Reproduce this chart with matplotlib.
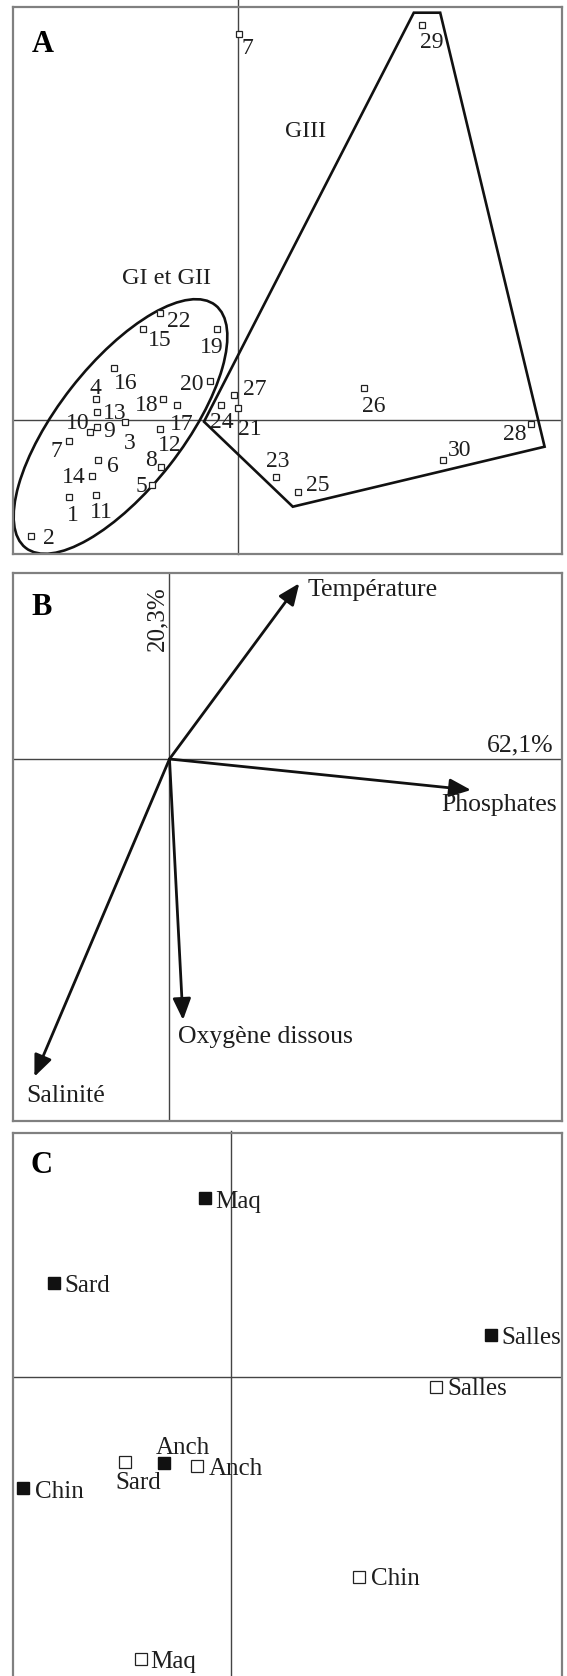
import matplotlib
matplotlib.use("Agg")
import matplotlib.pyplot as plt
from matplotlib.patches import Ellipse, Polygon

plt.rcParams['font.family'] = ['Liberation Serif', 'DejaVu Serif']

# ---------------- DATA ----------------
# Panel A: station scores (F1, F2)
station_labels = ['1', '2', '3', '4', '5', '6', '7', '8', '9', '10',
                  '11', '12', '13', '14', '15', '16', '17', '18', '19', '20',
                  '21', '22', '23', '24', '25', '26', '27', '28', '29', '30', '7']
station_x = [-1.69, -2.07, -1.12, -1.42, -0.86, -1.40, -1.69, -0.77, -1.41, -1.48,
             -1.42, -0.78, -1.41, -1.46, -0.95, -1.24, -0.61, -0.75, -0.21, -0.28,
             0.00, -0.78, 0.38, -0.17, 0.60, 1.26, -0.04, 2.93, 1.84, 2.05, 0.01]
station_y = [-0.77, -1.16, -0.02, 0.21, -0.65, -0.40, -0.21, -0.47, -0.07, -0.12,
             -0.75, -0.09, 0.08, -0.56, 0.91, 0.52, 0.15, 0.21, 0.91, 0.39,
             0.12, 1.07, -0.57, 0.15, -0.72, 0.32, 0.25, -0.04, 3.95, -0.40, 3.86]
# GIII hull and GI/GII ellipse (score units)
giii_hull_x = [1.763, 2.027, 3.071, 0.553, -0.335]
giii_hull_y = [4.078, 4.078, -0.262, -0.862, -0.012]
gi_ellipse_center = (-1.17, -0.06)
gi_ellipse_axes = (3.08, 1.25)
gi_ellipse_angle = 52.0

# Panel B: variable loadings
variables = ['Température', 'Phosphates', 'Oxygène dissous', 'Salinité']
var_x = [1.298, 3.015, 0.135, -1.351]
var_y = [1.757, -0.31, -2.61, -3.177]
axis1_pct = '62,1%'
axis2_pct = '20,3%'

# Panel C: species scores (filled = one period, open = other)
species = ['Maq', 'Sard', 'Salles', 'Anch', 'Chin']
filled_x = [-0.256, -1.767, 2.603, -0.669, -2.085]
filled_y = [1.787, 0.937, 0.42, -0.863, -1.113]
open_x = [-0.897, -1.056, 2.049, -0.339, 1.284]
open_y = [-2.823, -0.847, -0.097, -0.89, -1.997]

# ---------------- LAYOUT / STYLE ----------------
W, H = 567, 1676
fig = plt.figure(figsize=(W / 100, H / 100), dpi=100)
txt_col = '#1e1e1e'
axis_col = '#444444'

def make_axes(l, t, r, b):
    ax = fig.add_axes([l / W, 1 - b / H, (r - l) / W, (b - t) / H])
    ax.set_xticks([]); ax.set_yticks([])
    for s in ax.spines.values():
        s.set_color('#808080'); s.set_linewidth(1.6)
    return ax

# ---- Panel A ----
axA = make_axes(13, 7, 562, 554)
axA.set_xlim(-2.245, 3.245); axA.set_ylim(-1.335, 4.135)
axA.axhline(0, color=axis_col, lw=1.0, zorder=1)
axA.axvline(0, ymin=0, ymax=1 + 7 / 547, color=axis_col, lw=1.0, zorder=1, clip_on=False)
axA.add_patch(Polygon(list(zip(giii_hull_x, giii_hull_y)), closed=True, fill=False,
                      ec='#111111', lw=1.9, joinstyle='miter', zorder=2))
axA.add_patch(Ellipse(gi_ellipse_center, gi_ellipse_axes[0], gi_ellipse_axes[1],
                      angle=gi_ellipse_angle, fill=False, ec='#111111', lw=1.9, zorder=2))
axA.plot(station_x, station_y, ls='none', marker='s', ms=4.4, mfc='white',
         mec='#222222', mew=0.9, zorder=3, clip_on=False)
lab_off_A = [(4, -18), (18, -2), (4, -21), (0, 11), (-10, -1), (15, -6), (-12, -10),
             (-9, 7), (13, -4), (-12, 9), (6, -17), (10, -16), (18, -1), (-18, -1),
             (17, -11), (12, -15), (5, -19), (-16, -6), (-5, -18), (-18, -3),
             (12, -21), (19, -8), (2, 16), (1, -17), (20, 7), (10, -18), (21, 6),
             (-16, -10), (10, -17), (17, 10), (9, -14)]
for lab, x, y, off in zip(station_labels, station_x, station_y, lab_off_A):
    axA.annotate(lab, (x, y), xytext=off, textcoords='offset pixels',
                 ha='center', va='center', fontsize=17, color=txt_col, zorder=4)
axA.text(0.685, 2.888, 'GIII', ha='center', va='center', fontsize=17, color=txt_col)
axA.text(-0.708, 1.422, 'GI et GII', ha='center', va='center', fontsize=17.5, color=txt_col)
axA.text(19 / 549, 1 - 45 / 547, 'A', transform=axA.transAxes, fontsize=22,
         fontweight='bold', ha='left', va='baseline')

# ---- Panel B ----
axB = make_axes(13, 573, 562, 1121)
axB.set_xlim(-1.565, 3.925); axB.set_ylim(-3.62, 1.86)
axB.axhline(0, color=axis_col, lw=1.0, zorder=1)
axB.axvline(0, color=axis_col, lw=1.0, zorder=1)
lab_off_B = [(8, -7, 'left'), (-30, -15, 'left'), (-5, -17, 'left'), (-8, -19, 'left')]
for name, x, y, off in zip(variables, var_x, var_y, lab_off_B):
    axB.annotate('', xy=(x, y), xytext=(0, 0),
                 arrowprops=dict(arrowstyle='-|>,head_length=1.3,head_width=0.55',
                                 lw=2.0, color='#111111', shrinkA=0, shrinkB=0,
                                 mutation_scale=10), zorder=3)
    axB.annotate(name, (x, y), xytext=(off[0], off[1]), textcoords='offset pixels',
                 ha=off[2], va='center', fontsize=18.5, color=txt_col)
axB.text(3.845, 0.133, axis1_pct, ha='right', va='center', fontsize=18.5, color=txt_col)
axB.text(-0.119, 1.40, axis2_pct, ha='center', va='center', rotation=90,
         fontsize=18, color=txt_col)
axB.text(18 / 549, 1 - 42 / 548, 'B', transform=axB.transAxes, fontsize=22,
         fontweight='bold', ha='left', va='baseline')

# ---- Panel C ----
axC = make_axes(13, 1133, 562, 1680)
axC.set_xlim(-2.18, 3.31); axC.set_ylim(-3.03, 2.44)
axC.axhline(0, color=axis_col, lw=1.0, zorder=1)
axC.axvline(0, ymin=0, ymax=1 + 2 / 547, color=axis_col, lw=1.0, zorder=1, clip_on=False)
axC.plot(filled_x, filled_y, ls='none', marker='s', ms=8.4, mfc='#111111',
         mec='#111111', zorder=3, clip_on=False)
axC.plot(open_x, open_y, ls='none', marker='s', ms=8.0, mfc='white',
         mec='#222222', mew=0.9, zorder=3, clip_on=False)
off_filled = [(10, -1, 'left'), (10, 0, 'left'), (10, 0, 'left'), (19, 18, 'center'),
              (13, -1, 'left')]
off_open = [(9, 0, 'left'), (13, -19, 'center'), (11, 0, 'left'), (12, 0, 'left'),
            (12, 0, 'left')]
for name, x, y, off in zip(species, filled_x, filled_y, off_filled):
    axC.annotate(name, (x, y), xytext=(off[0], off[1]), textcoords='offset pixels',
                 ha=off[2], va='center_baseline', fontsize=18, color=txt_col)
for name, x, y, off in zip(species, open_x, open_y, off_open):
    axC.annotate(name, (x, y), xytext=(off[0], off[1]), textcoords='offset pixels',
                 ha=off[2], va='center_baseline', fontsize=18, color=txt_col)
axC.text(18 / 549, 1 - 40 / 547, 'C', transform=axC.transAxes, fontsize=22,
         fontweight='bold', ha='left', va='baseline')

fig.savefig('out.png', dpi=100)
